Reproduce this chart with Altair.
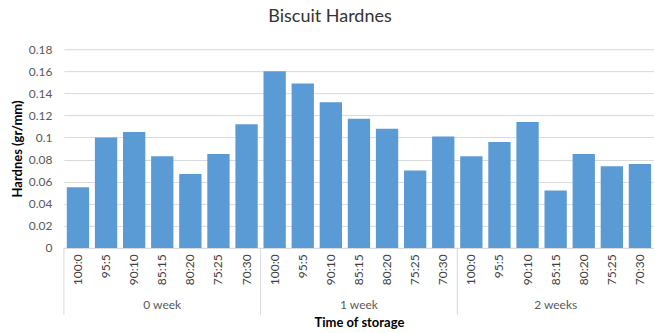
import altair as alt
import pandas as pd

# Storage time groups and flour blend ratios
weeks = ["0 week", "1 week", "2 weeks"]
ratios = ["100:0", "95:5", "90:10", "85:15", "80:20", "75:25", "70:30"]

# Hardness (gr/mm) per blend, one list per storage time
hard_w0 = [0.055, 0.100, 0.105, 0.083, 0.067, 0.085, 0.112]
hard_w1 = [0.160, 0.149, 0.132, 0.117, 0.108, 0.070, 0.101]
hard_w2 = [0.083, 0.096, 0.114, 0.052, 0.085, 0.074, 0.076]

y_ticks = [0, 0.02, 0.04, 0.06, 0.08, 0.1, 0.12, 0.14, 0.16, 0.18]

rows = []
for w, vals in zip(weeks, [hard_w0, hard_w1, hard_w2]):
    for r, v in zip(ratios, vals):
        rows.append({"week": w, "ratio": r, "key": f"{w}|{r}", "hardness": v})
df = pd.DataFrame(rows)
order = list(df["key"])

FONT = "Lato"
PAD_IN = 0.206

x_scale = alt.Scale(domain=order, paddingInner=PAD_IN, paddingOuter=PAD_IN / 2)
x_axis = alt.Axis(
    title="Time of storage",
    labelExpr="split(datum.label, '|')[1]",
    labelAngle=-90,
    labelFont=FONT,
    labelFontSize=12,
    labelColor="#404040",
    labelPadding=6,
    ticks=False,
    domainColor="#d9d9d9",
    grid=False,
    titleFont=FONT,
    titleFontSize=13,
    titleFontWeight="bold",
    titleColor="#000000",
    titlePadding=32,
)
y_axis = alt.Axis(
    title="Hardnes (gr/mm)",
    values=y_ticks,
    format=".2~f",
    labelFont=FONT,
    labelFontSize=12,
    labelColor="#595959",
    labelPadding=12,
    ticks=False,
    domain=False,
    gridColor="#d9d9d9",
    titleFont=FONT,
    titleFontSize=13,
    titleFontWeight="bold",
    titleColor="#000000",
    titlePadding=4,
)

base = alt.Chart(df)

bars = base.mark_bar(color="#5B9BD5").encode(
    x=alt.X("key:N", scale=x_scale, axis=x_axis, sort=order),
    y=alt.Y("hardness:Q", scale=alt.Scale(domain=[0, 0.18], nice=False), axis=y_axis),
)

# Group labels beneath the blend labels, centred on the middle blend
group_labels = base.transform_filter(alt.datum.ratio == "85:15").mark_text(
    font=FONT, fontSize=12, color="#595959", baseline="middle"
).encode(
    x=alt.X("key:N", scale=x_scale, sort=order),
    y=alt.value(256),
    text="week:N",
)

# Vertical separators at the start of each storage group
separators = base.transform_filter(alt.datum.ratio == "100:0").mark_rule(
    color="#d9d9d9", strokeWidth=1, xOffset=-2.9
).encode(
    x=alt.X("key:N", scale=x_scale, sort=order, bandPosition=0),
    y=alt.value(199),
    y2=alt.value(266),
)

chart = alt.layer(bars, separators, group_labels).properties(
    width=591,
    height=199,
    title=alt.TitleParams(
        "Biscuit Hardnes",
        font=FONT,
        fontSize=18,
        fontWeight="normal",
        color="#333333",
        dx=-29,
        offset=17,
    ),
    autosize=alt.AutoSizeParams(type="none"),
    padding={"left": 64, "top": 49, "right": 0, "bottom": 85},
).configure_view(stroke=None)

chart.save("out.html", embed_options={"renderer": "svg", "actions": False})
